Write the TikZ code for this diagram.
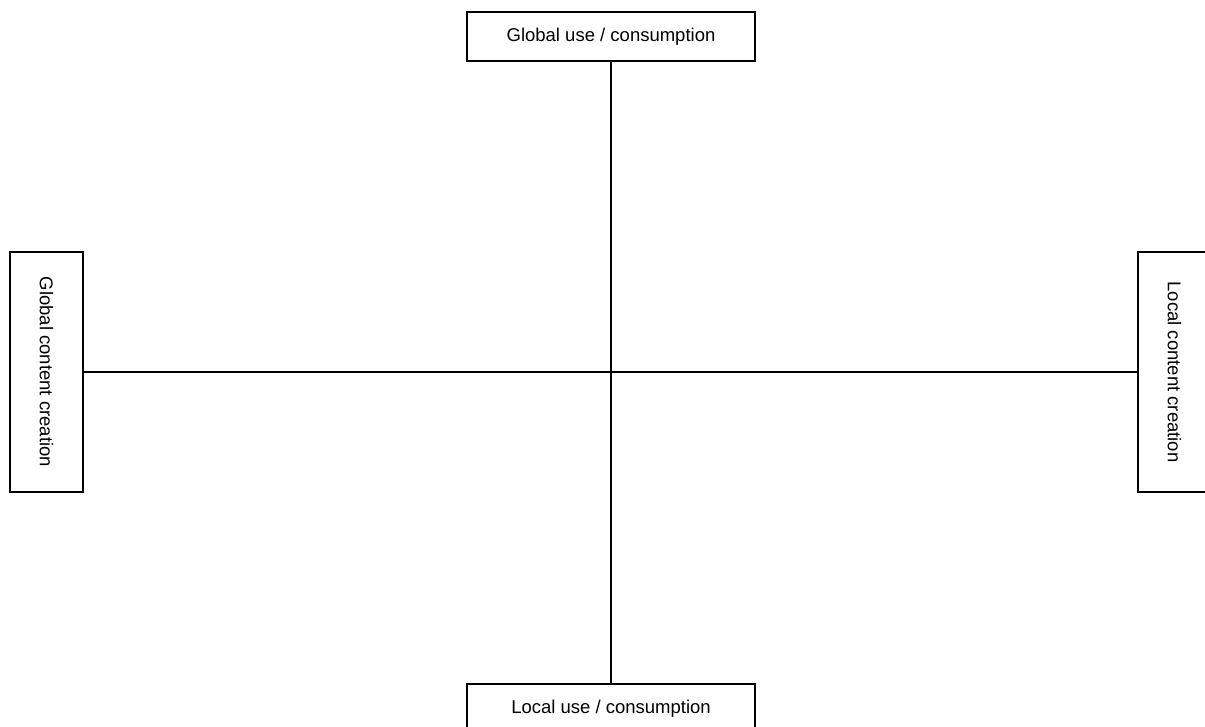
\documentclass[tikz,border=0pt]{standalone}
\usepackage{fontspec}
\setmainfont{Liberation Sans}
\usepackage{tikz}

\begin{document}
\begin{tikzpicture}[x=1pt,y=1pt,line width=1.3pt,
  box/.style={draw, fill=white, inner sep=0pt, font=\fontsize{18.5}{22}\selectfont}]
  \useasboundingbox (0,0) rectangle (1205,-727);
  \node (gu) [box, minimum width=288, minimum height=49] at (611,-36.5) {Global use / consumption};
  \node (lu) [box, minimum width=288, minimum height=49] at (611,-708.5) {Local use / consumption};
  \node (gc) [box, rotate=-90, minimum width=240, minimum height=73] at (46.5,-372) {Global content creation};
  \node (lc) [box, rotate=-90, minimum width=240, minimum height=73] at (1174.5,-372) {Local content creation};

  \draw (gu) -- (lu);
  \draw (gc) -- (lc);
\end{tikzpicture}
\end{document}
